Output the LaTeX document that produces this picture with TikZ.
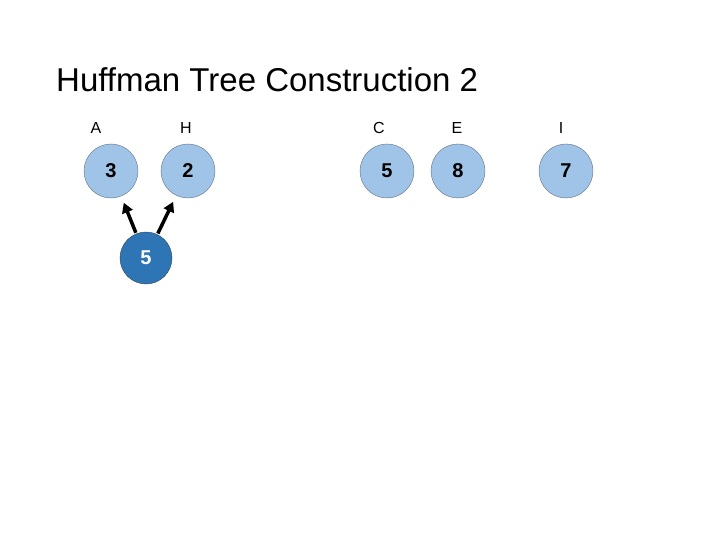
\documentclass[tikz,border=0pt]{standalone}
\usepackage{fontspec}
\setmainfont{Liberation Sans}
\usetikzlibrary{positioning,arrows.meta}
\definecolor{leaffill}{RGB}{160,196,232}
\definecolor{leafline}{RGB}{90,110,130}
\definecolor{sumfill}{RGB}{46,117,182}

\begin{document}
\begin{tikzpicture}[x=1pt, y=-1pt,
  leaf/.style={circle, draw=leafline, fill=leaffill, minimum size=54pt, inner sep=0pt, font=\fontsize{20}{22}\selectfont\bfseries},
  sum/.style={circle, draw=leafline!60!black, fill=sumfill, text=white, minimum size=52pt, inner sep=0pt, font=\fontsize{20}{22}\selectfont\bfseries},
  lbl/.style={font=\fontsize{16}{18}\selectfont},
  link/.style={line width=3.5pt, -{Triangle[length=10pt, width=11pt]}, shorten <=1pt, shorten >=7pt}]
\useasboundingbox (0,0) rectangle (720,540);
\node[anchor=base west, inner sep=0pt, font=\fontsize{33}{36}\selectfont] (title) at (56,92) {Huffman Tree Construction 2};
% leaves
\node[leaf] (a) at (111,171) {3};
\node[leaf] (h) at (188,171) {2};
\node[leaf] (c) at (387,171) {5};
\node[leaf] (e) at (458,171) {8};
\node[leaf] (i) at (566,171) {7};
\node[lbl] (la) at (96,128) {A};
\node[lbl] (lh) at (186,128) {H};
\node[lbl] (lc) at (379,128) {C};
\node[lbl] (le) at (457,128) {E};
\node[lbl] (li) at (561,128) {I};
% merged node
\node[sum] (ah) at (146,258) {5};
\draw[link] (ah) -- (a);
\draw[link] (ah) -- (h);
\end{tikzpicture}
\end{document}
